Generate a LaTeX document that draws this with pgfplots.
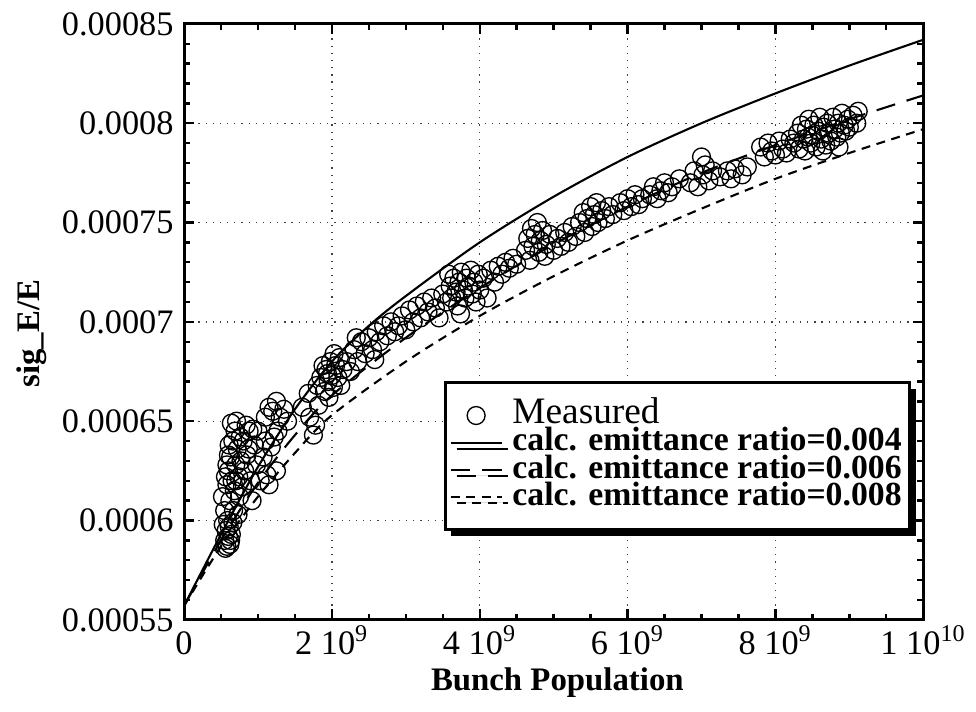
\documentclass[border=0pt]{standalone}
\usepackage{fontspec}
\setmainfont{Liberation Serif}
\usepackage{pgfplots}
\pgfplotsset{compat=1.18}
\usetikzlibrary{shadows}

\begin{document}
\begin{tikzpicture}
\begin{axis}[
  name=ax,
  scale only axis,
  width=247.7pt, height=199.7pt,
  xmin=0, xmax=1e10, ymin=0.00055, ymax=0.00085,
  xtick={0,2e9,4e9,6e9,8e9,1e10},
  xticklabels={0,2 10\textsuperscript{9},4 10\textsuperscript{9},6 10\textsuperscript{9},8 10\textsuperscript{9},1 10\textsuperscript{10}},
  ytick={0.00055,0.0006,0.00065,0.0007,0.00075,0.0008,0.00085},
  yticklabels={0.00055,0.0006,0.00065,0.0007,0.00075,0.0008,0.00085},
  scaled x ticks=false, scaled y ticks=false,
  minor x tick num=3, minor y tick num=4,
  tick align=inside,
  major tick length=3.5pt, minor tick length=2pt,
  every tick/.style={black, line width=0.8pt},
  axis line style={line width=1pt},
  grid=major,
  major grid style={dotted, black!75, line width=0.45pt},
  tick label style={font=\fontsize{11.5}{12}\selectfont},
  xticklabel style={text height=8pt, text depth=0pt},
  /pgf/number format/assume math mode=true,
  xlabel={\textbf{Bunch Population}},
  ylabel={\textbf{sig\_E/E}},
  label style={font=\fontsize{11}{12}\selectfont},
  xlabel style={at={(axis description cs:0.505,-0.105)}, anchor=center},
  ylabel style={at={(axis description cs:-0.206,0.48)}, anchor=center},
  legend style={at={(rel axis cs:0.984,0.4007)}, anchor=north east,
    draw=black, line width=1pt, fill=white,
    drop shadow={shadow xshift=2pt, shadow yshift=-2pt, opacity=1, fill=black},
    font=\fontsize{11.3}{11}\selectfont,
    nodes={inner xsep=1.3pt, inner ysep=0.3pt, text height=7pt, text depth=1.5pt},
    inner xsep=1.5pt, inner ysep=6.5pt},
  legend cell align=left,
]
\addplot[only marks, mark=o, mark size=3pt, mark options={line width=0.45pt, black}] table {
x y
0.55e9 0.000590
0.58e9 0.000587
0.60e9 0.000592
0.62e9 0.000588
0.57e9 0.000595
0.61e9 0.000597
0.64e9 0.000593
0.59e9 0.000600
0.53e9 0.000598
0.66e9 0.000599
0.56e9 0.000586
0.63e9 0.000590
0.52e9 0.000612
0.55e9 0.000605
0.58e9 0.000618
0.60e9 0.000625
0.62e9 0.000610
0.63e9 0.000632
0.65e9 0.000620
0.66e9 0.000640
0.68e9 0.000615
0.70e9 0.000628
0.72e9 0.000636
0.74e9 0.000622
0.75e9 0.000612
0.77e9 0.000630
0.58e9 0.000628
0.61e9 0.000638
0.69e9 0.000645
0.64e9 0.000649
0.71e9 0.000650
0.80e9 0.000640
0.82e9 0.000625
0.85e9 0.000633
0.88e9 0.000645
0.90e9 0.000620
0.92e9 0.000610
0.95e9 0.000638
0.98e9 0.000628
0.56e9 0.000622
0.67e9 0.000605
0.73e9 0.000603
0.79e9 0.000617
0.84e9 0.000648
1.00e9 0.000645
1.03e9 0.000620
1.07e9 0.000632
1.10e9 0.000640
1.12e9 0.000623
1.15e9 0.000618
1.18e9 0.000637
1.22e9 0.000642
1.25e9 0.000625
1.27e9 0.000645
0.76e9 0.000642
0.87e9 0.000636
0.93e9 0.000646
0.60e9 0.000633
0.70e9 0.000620
1.10e9 0.000652
1.15e9 0.000657
1.20e9 0.000655
1.25e9 0.000660
1.30e9 0.000652
1.35e9 0.000656
1.40e9 0.000650
1.60e9 0.000657
1.70e9 0.000652
1.75e9 0.000643
1.78e9 0.000648
1.82e9 0.000658
1.68e9 0.000664
1.80e9 0.000668
1.85e9 0.000672
1.90e9 0.000665
1.92e9 0.000676
1.95e9 0.000670
1.98e9 0.000680
2.00e9 0.000673
2.02e9 0.000667
2.05e9 0.000678
2.08e9 0.000672
2.10e9 0.000682
2.12e9 0.000668
1.88e9 0.000678
1.96e9 0.000662
2.15e9 0.000676
2.03e9 0.000684
1.94e9 0.000674
2.20e9 0.000680
2.25e9 0.000675
2.30e9 0.000686
2.35e9 0.000680
2.40e9 0.000690
2.45e9 0.000684
2.50e9 0.000692
2.55e9 0.000686
2.60e9 0.000695
2.65e9 0.000690
2.70e9 0.000698
2.75e9 0.000693
2.80e9 0.000700
2.85e9 0.000695
2.33e9 0.000692
2.58e9 0.000681
2.90e9 0.000698
2.95e9 0.000703
3.00e9 0.000696
3.05e9 0.000706
3.10e9 0.000700
3.15e9 0.000708
3.20e9 0.000702
3.25e9 0.000710
3.30e9 0.000705
3.35e9 0.000712
3.40e9 0.000707
3.45e9 0.000702
3.50e9 0.000714
3.55e9 0.000710
3.60e9 0.000718
3.62e9 0.000712
3.65e9 0.000722
3.68e9 0.000715
3.70e9 0.000708
3.72e9 0.000720
3.75e9 0.000725
3.78e9 0.000716
3.80e9 0.000712
3.82e9 0.000722
3.85e9 0.000718
3.88e9 0.000726
3.90e9 0.000714
3.92e9 0.000720
3.95e9 0.000710
3.98e9 0.000724
4.00e9 0.000716
4.05e9 0.000722
4.10e9 0.000712
4.15e9 0.000726
4.20e9 0.000720
3.58e9 0.000724
3.74e9 0.000704
4.25e9 0.000728
4.30e9 0.000724
4.35e9 0.000730
4.40e9 0.000727
4.45e9 0.000732
4.50e9 0.000729
4.62e9 0.000736
4.65e9 0.000742
4.68e9 0.000731
4.70e9 0.000747
4.72e9 0.000738
4.75e9 0.000744
4.78e9 0.000750
4.80e9 0.000735
4.82e9 0.000741
4.85e9 0.000746
4.88e9 0.000733
4.90e9 0.000739
4.95e9 0.000744
5.00e9 0.000736
5.05e9 0.000742
5.10e9 0.000738
5.15e9 0.000745
5.20e9 0.000740
5.25e9 0.000748
5.30e9 0.000743
5.35e9 0.000750
5.40e9 0.000755
5.42e9 0.000745
5.45e9 0.000752
5.50e9 0.000758
5.52e9 0.000748
5.55e9 0.000754
5.58e9 0.000760
5.60e9 0.000750
5.65e9 0.000756
5.70e9 0.000752
5.75e9 0.000758
5.80e9 0.000754
5.90e9 0.000760
5.95e9 0.000756
6.00e9 0.000762
6.05e9 0.000758
6.10e9 0.000764
6.15e9 0.000759
6.20e9 0.000762
6.30e9 0.000764
6.35e9 0.000768
6.40e9 0.000762
6.45e9 0.000766
6.50e9 0.000770
6.55e9 0.000765
6.60e9 0.000768
6.70e9 0.000772
6.85e9 0.000770
6.90e9 0.000776
6.95e9 0.000768
7.00e9 0.000783
7.02e9 0.000774
7.05e9 0.000779
7.10e9 0.000771
7.15e9 0.000776
7.25e9 0.000773
7.35e9 0.000776
7.40e9 0.000772
7.45e9 0.000777
7.55e9 0.000774
7.62e9 0.000778
7.80e9 0.000788
7.85e9 0.000783
7.90e9 0.000790
7.95e9 0.000786
8.00e9 0.000784
8.05e9 0.000791
8.10e9 0.000787
8.15e9 0.000785
8.20e9 0.000792
8.25e9 0.000790
8.30e9 0.000795
8.32e9 0.000787
8.35e9 0.000799
8.38e9 0.000792
8.40e9 0.000786
8.42e9 0.000797
8.45e9 0.000802
8.48e9 0.000790
8.50e9 0.000794
8.52e9 0.000799
8.55e9 0.000788
8.58e9 0.000796
8.60e9 0.000803
8.62e9 0.000792
8.65e9 0.000798
8.68e9 0.000789
8.70e9 0.000800
8.72e9 0.000795
8.75e9 0.000791
8.78e9 0.000803
8.80e9 0.000797
8.83e9 0.000793
8.85e9 0.000800
8.88e9 0.000795
8.90e9 0.000805
8.93e9 0.000799
8.95e9 0.000796
8.98e9 0.000802
9.00e9 0.000798
9.05e9 0.000804
9.10e9 0.000800
9.12e9 0.000806
8.44e9 0.000793
8.64e9 0.000786
8.86e9 0.000788
};
\addlegendentry{\hspace{2pt}\fontsize{12.5}{11}\selectfont Measured}

\addplot[black, line width=0.7pt, smooth] coordinates {
(0,0.000557) (0.5e9,0.000593) (1e9,0.000627) (1.5e9,0.000656) (2e9,0.000680)
(2.5e9,0.000698) (3e9,0.000713) (4e9,0.000740) (5e9,0.000763)
(6e9,0.000783) (7e9,0.000800) (8e9,0.000815) (9e9,0.000829) (1e10,0.000842)
};
\addlegendentry{\hspace{2pt}\textbf{calc. emittance ratio=0.004}}

\addplot[black, line width=0.7pt, smooth, dash pattern=on 6.5pt off 4pt] coordinates {
(0,0.000557) (0.5e9,0.000590) (1e9,0.000619) (1.5e9,0.000643) (2e9,0.000663)
(3e9,0.000692) (4e9,0.000717) (5e9,0.000739) (6e9,0.000758) (7e9,0.000775)
(8e9,0.000789) (9e9,0.000802) (1e10,0.000814)
};
\addlegendentry{\hspace{2pt}\textbf{calc. emittance ratio=0.006}}

\addplot[black, line width=0.7pt, smooth, dash pattern=on 3pt off 2.2pt] coordinates {
(0,0.000557) (0.5e9,0.000587) (1e9,0.000612) (1.5e9,0.000634) (2e9,0.000653)
(3e9,0.000680) (4e9,0.000703) (5e9,0.000723) (6e9,0.000741) (7e9,0.000757)
(8e9,0.000772) (9e9,0.000785) (1e10,0.000797)
};
\addlegendentry{\hspace{2pt}\textbf{calc. emittance ratio=0.008}}
\end{axis}
\path ([xshift=-61.67pt,yshift=-30.67pt]ax.south west) rectangle ([xshift=16pt,yshift=8pt]ax.north east);
\end{tikzpicture}
\end{document}
